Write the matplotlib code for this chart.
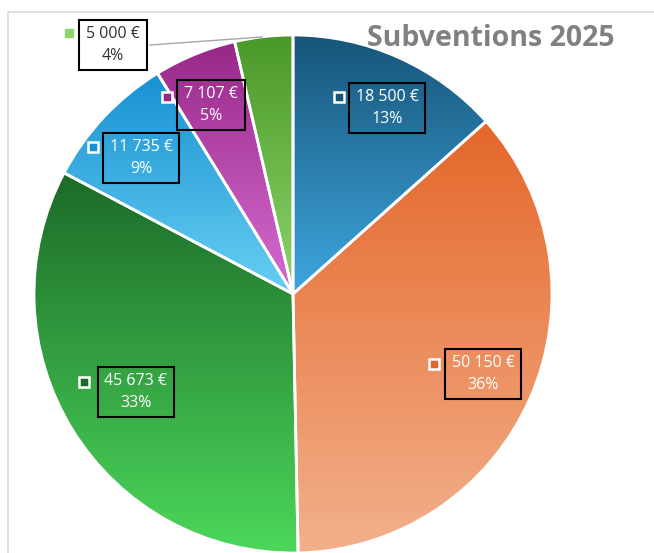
import numpy as np
import matplotlib
matplotlib.use("Agg")
import matplotlib.pyplot as plt
from matplotlib.colors import to_rgb
from matplotlib.patches import Rectangle

plt.rcParams['font.family'] = ['Open Sans', 'DejaVu Sans']

# data
amounts = [18500, 50150, 45673, 11735, 7107, 5000]
labels = ["18 500 €", "50 150 €", "45 673 €", "11 735 €", "7 107 €", "5 000 €"]
pcts = ["13%", "36%", "33%", "9%", "5%", "4%"]
# gradient top / bottom per slice
tops = ["#175579", "#e4672a", "#1c6a28", "#1891d2", "#972888", "#4a9828"]
bottoms = ["#3ea6de", "#f3b08c", "#4cd75b", "#68cff3", "#d66cd2", "#8cd66c"]

# label centres (pixels), marker positions (pixels)
label_xy = [(387, 108), (483, 374), (136, 392), (141, 158), (211, 105), (113, 45)]
marker_xy = [(339, 97), (434, 364), (84, 382), (93, 147), (167, 97), (69, 33)]

W, H = 654, 553
fig = plt.figure(figsize=(W / 100, H / 100), dpi=100)
ax = fig.add_axes([0, 0, 1, 1])

def py(y):
    # pixel row -> data y
    return H - y

center = (293, py(294))
radius = 259

wedges, _ = ax.pie(amounts, startangle=90, counterclock=False, center=center,
                   radius=radius, frame=True,
                   wedgeprops=dict(facecolor="none", edgecolor="white", linewidth=2, zorder=3))

# vertical gradient fill for each slice
for w, c0, c1 in zip(wedges, tops, bottoms):
    path = w.get_path().transformed(w.get_patch_transform())
    ext = path.get_extents()
    t = np.linspace(0, 1, 256)[:, None, None]
    grad = (1 - t) * np.array(to_rgb(c0)) + t * np.array(to_rgb(c1))
    im = ax.imshow(grad, extent=(ext.x0, ext.x1, ext.y0, ext.y1), origin="upper",
                   aspect="auto", zorder=1, interpolation="bilinear")
    im.set_clip_path(w)

ax.set_xlim(0, W)
ax.set_ylim(0, H)
ax.set_aspect("equal")
ax.axis("off")

# chart border
ax.add_patch(Rectangle((8, py(700)), 800, 688, fill=False, ec="#d9d9d9", lw=1.2, zorder=0))

# data labels
for i, (lab, p) in enumerate(zip(labels, pcts)):
    x, y = label_xy[i]
    mx, my = marker_xy[i]
    outside = i == 5
    tc = "#333333" if outside else "white"
    ax.text(x, py(y), lab + "\n" + p, ha="center", va="center", fontsize=11.5,
            color=tc, linespacing=1.45, zorder=5,
            bbox=dict(boxstyle="square,pad=0.42", fc="white" if outside else "none",
                      ec="black", lw=1.5))
    if outside:
        ax.plot(mx, py(my), marker="s", ms=5.5, color=bottoms[i], mec=bottoms[i], zorder=5)
    else:
        ax.plot(mx, py(my), marker="s", ms=7, color=tops[i], mec="white", mew=1.8, zorder=5)

# leader line for the small slice
ax.plot([150, 262], [py(45), py(37)], color="#a6a6a6", lw=1, zorder=4)

ax.text(491, py(38), "Subventions 2025", ha="center", va="center", fontsize=20.5,
        fontweight="bold", color="#808080", zorder=6)

fig.savefig("out.png", dpi=100)
